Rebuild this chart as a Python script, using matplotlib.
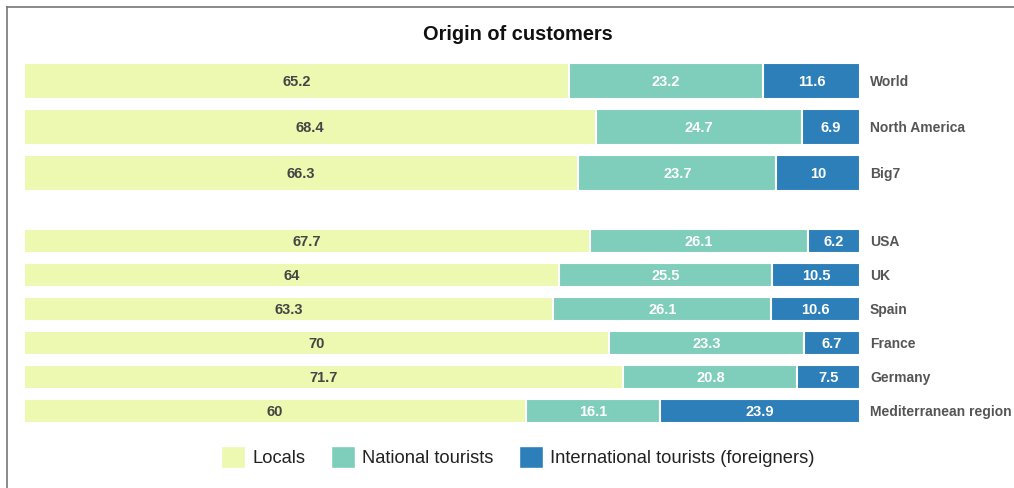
import matplotlib.pyplot as plt
from matplotlib.patches import Patch
from matplotlib.lines import Line2D

plt.rcParams['font.family'] = ['Liberation Sans', 'DejaVu Sans']

regions = ['World', 'North America', 'Big7',
           'USA', 'UK', 'Spain', 'France', 'Germany', 'Mediterranean region']
locals_ = [65.2, 68.4, 66.3, 67.7, 64, 63.3, 70, 71.7, 60]
national = [23.2, 24.7, 23.7, 26.1, 25.5, 26.1, 23.3, 20.8, 16.1]
international = [11.6, 6.9, 10, 6.2, 10.5, 10.6, 6.7, 7.5, 23.9]

series_names = ['Locals', 'National tourists', 'International tourists (foreigners)']
colors = ['#edf8b1', '#7fcdbb', '#2c7fb8']
text_colors = ['#444444', 'white', 'white']

# layout: first three rows are the big aggregate bars, then the countries
ypos = [80.5 + 46 * i for i in range(3)] + [240.5 + 34 * i for i in range(6)]
heights = [36] * 3 + [24] * 6

fig = plt.figure(figsize=(10.14, 4.88), dpi=100)
ax = fig.add_axes([24 / 1014, (488 - 425) / 488, 836 / 1014, 365 / 488])

left = [0] * len(regions)
for vals, col, tcol in zip([locals_, national, international], colors, text_colors):
    ax.barh(ypos, vals, height=heights, left=left, color=col,
            edgecolor='white', linewidth=1.5)
    for y, l, v in zip(ypos, left, vals):
        ax.text(l + v / 2, y, f'{v:g}', ha='center', va='center_baseline',
                color=tcol, fontsize=10.5, fontweight='bold')
    left = [a + b for a, b in zip(left, vals)]

for y, name in zip(ypos, regions):
    ax.text(101.2, y, name, ha='left', va='center_baseline', color='#555555',
            fontsize=10, fontweight='bold', clip_on=False)

ax.set_xlim(0, 100)
ax.set_ylim(425, 60)
ax.axis('off')

fig.text(518 / 1014, 1 - 35 / 488, 'Origin of customers', ha='center', va='center',
         fontsize=14.4, fontweight='bold', color='#111111')

handles = [Patch(facecolor=c, edgecolor='white') for c in colors]
fig.legend(handles, series_names, loc='center', bbox_to_anchor=(518 / 1014, 31 / 488),
           ncol=3, frameon=False, fontsize=13.2, handlelength=1.3, handleheight=1.5,
           handletextpad=0.4, columnspacing=1.4, labelcolor='#222222')

# frame lines along top and left edge
fig.add_artist(Line2D([7 / 1014, 7 / 1014], [0, 1 - 7 / 488], transform=fig.transFigure,
                      color='#777777', linewidth=1.2))
fig.add_artist(Line2D([7 / 1014, 1], [1 - 7 / 488, 1 - 7 / 488], transform=fig.transFigure,
                      color='#777777', linewidth=1.2))

fig.savefig('out.png', dpi=100)
